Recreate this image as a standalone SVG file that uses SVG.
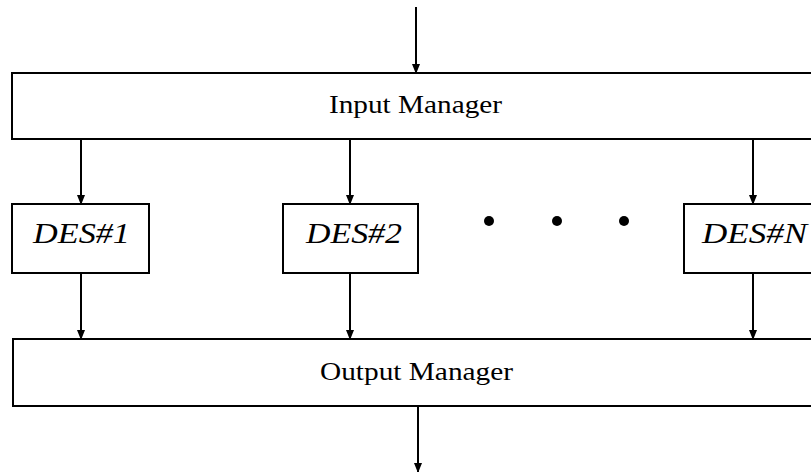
<svg xmlns="http://www.w3.org/2000/svg" width="811" height="472" viewBox="0 0 811 472">
<defs>
<marker id="ah" markerUnits="userSpaceOnUse" markerWidth="10" markerHeight="12" refX="9" refY="4" orient="auto" viewBox="0 0 10 8">
<path d="M0,0 L10,4 L0,8 Z" fill="#000"/>
</marker>
<style>
.box{fill:#fff;stroke:#000;stroke-width:2}
.mgr{font-family:"Liberation Serif",serif;font-size:26px;fill:#000}
.des{font-family:"Liberation Serif",serif;font-style:italic;font-size:29px;fill:#000}
.con{stroke:#000;stroke-width:2;fill:none;marker-end:url(#ah)}
</style>
</defs>
<rect width="811" height="472" fill="#fff"/>
<g id="connectors">
<line class="con" x1="416" y1="7" x2="416" y2="73"/>
<line class="con" x1="81" y1="139" x2="81" y2="204"/>
<line class="con" x1="350" y1="139" x2="350" y2="204"/>
<line class="con" x1="753" y1="139" x2="753" y2="204"/>
<line class="con" x1="81" y1="273" x2="81" y2="339"/>
<line class="con" x1="350" y1="273" x2="350" y2="339"/>
<line class="con" x1="753" y1="273" x2="753" y2="339"/>
<line class="con" x1="418" y1="406" x2="418" y2="472"/>
</g>
<g id="input-manager">
<rect class="box" x="12" y="73" width="805" height="66"/>
<text class="mgr" x="329" y="113" textLength="173" lengthAdjust="spacingAndGlyphs">Input Manager</text>
</g>
<g id="des1">
<rect class="box" x="12" y="204" width="137" height="69"/>
<text class="des" x="33" y="243" textLength="97" lengthAdjust="spacingAndGlyphs">DES#1</text>
</g>
<g id="des2">
<rect class="box" x="283" y="204" width="135" height="69"/>
<text class="des" x="306" y="243" textLength="96" lengthAdjust="spacingAndGlyphs">DES#2</text>
</g>
<g id="ellipsis">
<circle cx="489" cy="221" r="5" fill="#000"/>
<circle cx="557" cy="221" r="5" fill="#000"/>
<circle cx="624" cy="221" r="5" fill="#000"/>
</g>
<g id="desN">
<rect class="box" x="684" y="204" width="135" height="69"/>
<text class="des" x="702" y="243" textLength="105" lengthAdjust="spacingAndGlyphs">DES#N</text>
</g>
<g id="output-manager">
<rect class="box" x="13" y="339" width="805" height="67"/>
<text class="mgr" x="320" y="380" textLength="193" lengthAdjust="spacingAndGlyphs">Output Manager</text>
</g>
</svg>
